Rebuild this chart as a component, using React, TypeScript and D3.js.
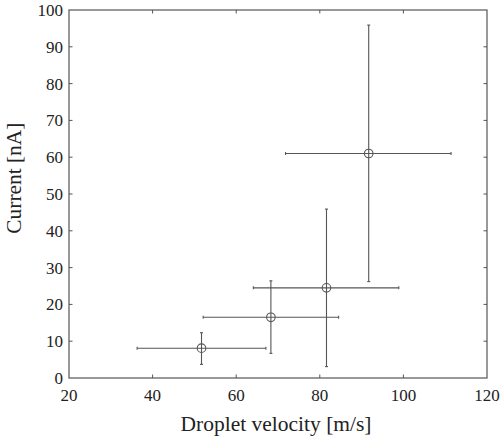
import React, { useEffect, useRef } from "react";
import * as d3 from "d3";

const velocity = [51.7, 68.3, 81.6, 91.7];
const velocityLow = [36.3, 52.1, 64.1, 71.8];
const velocityHigh = [67.1, 84.5, 98.9, 111.4];
const current = [8.1, 16.5, 24.5, 61.0];
const currentLow = [3.7, 6.7, 3.1, 26.2];
const currentHigh = [12.3, 26.4, 45.9, 95.9];
const xTicks = [20, 40, 60, 80, 100, 120];
const yTicks = [0, 10, 20, 30, 40, 50, 60, 70, 80, 90, 100];

const W = 500;
const H = 437;
const margin = { top: 10, right: 13, bottom: 59, left: 69 };
const font = '"Liberation Serif", "Times New Roman", Times, "DejaVu Serif", serif';
const ink = "#555";
const textInk = "#222";

export default function App() {
  const svgRef = useRef<SVGSVGElement | null>(null);

  useEffect(() => {
    if (!svgRef.current) return;
    const svg = d3.select(svgRef.current);
    svg.selectAll("*").remove();

    const iw = W - margin.left - margin.right;
    const ih = H - margin.top - margin.bottom;

    const x = d3.scaleLinear().domain([20, 120]).range([0, iw]);
    const y = d3.scaleLinear().domain([0, 100]).range([ih, 0]);

    svg.append("rect").attr("width", W).attr("height", H).attr("fill", "#fff");

    const g = svg
      .append("g")
      .attr("transform", `translate(${margin.left},${margin.top})`);

    g.append("rect")
      .attr("width", iw)
      .attr("height", ih)
      .attr("fill", "none")
      .attr("stroke", ink)
      .attr("stroke-width", 1.2);

    // inward ticks on all four sides
    const tick = 3.5;
    xTicks.slice(1, -1).forEach((t) => {
      g.append("line").attr("x1", x(t)).attr("x2", x(t)).attr("y1", ih).attr("y2", ih - tick).attr("stroke", ink);
      g.append("line").attr("x1", x(t)).attr("x2", x(t)).attr("y1", 0).attr("y2", tick).attr("stroke", ink);
    });
    yTicks.slice(1, -1).forEach((t) => {
      g.append("line").attr("x1", 0).attr("x2", tick).attr("y1", y(t)).attr("y2", y(t)).attr("stroke", ink);
      g.append("line").attr("x1", iw).attr("x2", iw - tick).attr("y1", y(t)).attr("y2", y(t)).attr("stroke", ink);
    });

    g.selectAll("text.xt")
      .data(xTicks)
      .enter()
      .append("text")
      .attr("x", (d) => x(d))
      .attr("y", ih + 23)
      .attr("text-anchor", "middle")
      .style("font-family", font)
      .style("font-size", "17px")
      .attr("fill", textInk)
      .text((d) => d);

    g.selectAll("text.yt")
      .data(yTicks)
      .enter()
      .append("text")
      .attr("x", -6)
      .attr("y", (d) => y(d))
      .attr("dy", "0.35em")
      .attr("text-anchor", "end")
      .style("font-family", font)
      .style("font-size", "17px")
      .attr("fill", textInk)
      .text((d) => d);

    g.append("text")
      .attr("x", iw / 2 - 2)
      .attr("y", ih + 53)
      .attr("text-anchor", "middle")
      .attr("textLength", 191)
      .attr("lengthAdjust", "spacingAndGlyphs")
      .style("font-family", font)
      .style("font-size", "22px")
      .attr("fill", textInk)
      .text("Droplet velocity [m/s]");

    g.append("text")
      .attr("transform", `translate(${-48},${y(54.3)}) rotate(-90)`)
      .attr("text-anchor", "middle")
      .attr("textLength", 111)
      .attr("lengthAdjust", "spacingAndGlyphs")
      .style("font-family", font)
      .style("font-size", "22px")
      .attr("fill", textInk)
      .text("Current [nA]");

    const cap = 1.5;
    velocity.forEach((v, i) => {
      const cx = x(v);
      const cy = y(current[i]);
      // horizontal error bar
      g.append("line").attr("x1", x(velocityLow[i])).attr("x2", x(velocityHigh[i])).attr("y1", cy).attr("y2", cy).attr("stroke", ink).attr("stroke-width", 1.1);
      [velocityLow[i], velocityHigh[i]].forEach((e) =>
        g.append("line").attr("x1", x(e)).attr("x2", x(e)).attr("y1", cy - cap).attr("y2", cy + cap).attr("stroke", ink).attr("stroke-width", 1.1)
      );
      // vertical error bar
      g.append("line").attr("x1", cx).attr("x2", cx).attr("y1", y(currentLow[i])).attr("y2", y(currentHigh[i])).attr("stroke", ink).attr("stroke-width", 1.1);
      [currentLow[i], currentHigh[i]].forEach((e) =>
        g.append("line").attr("x1", cx - cap).attr("x2", cx + cap).attr("y1", y(e)).attr("y2", y(e)).attr("stroke", ink).attr("stroke-width", 1.1)
      );
      g.append("circle").attr("cx", cx).attr("cy", cy).attr("r", 4.3).attr("fill", "none").attr("stroke", ink).attr("stroke-width", 1.1);
    });
  }, []);

  return (
    <svg
      ref={svgRef}
      width={W}
      height={H}
      style={{ position: "absolute", left: 0, top: 0, display: "block" }}
    />
  );
}
